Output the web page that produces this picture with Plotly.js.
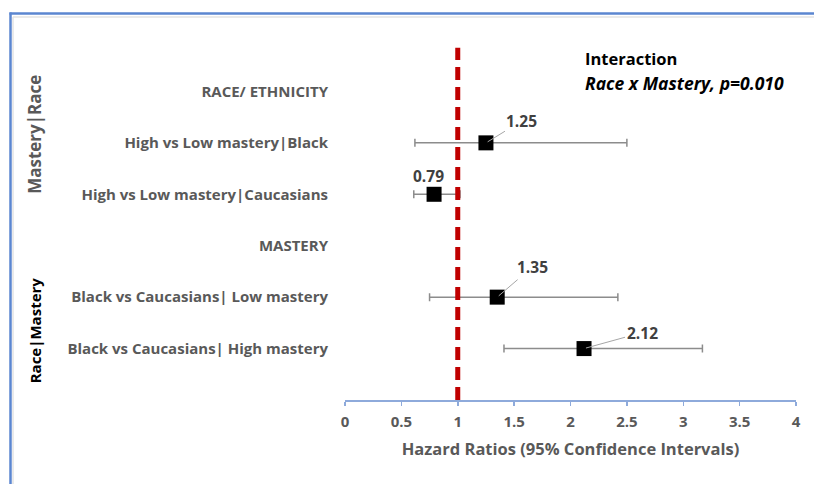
<!DOCTYPE html>
<html>
<head>
<meta charset="utf-8">
<script src="https://cdn.plot.ly/plotly-3.0.1.min.js"></script>
<style>
  html, body { margin: 0; padding: 0; background: #ffffff; }
  #chart { width: 814px; height: 484px; }
</style>
</head>
<body>
<div id="chart"></div>
<script>
// Row labels, top to bottom (section headers have no estimate)
const rowLabels = [
  "RACE/ ETHNICITY",
  "High vs Low mastery|Black",
  "High vs Low mastery|Caucasians",
  "MASTERY",
  "Black vs Caucasians| Low mastery",
  "Black vs Caucasians| High mastery"
];
const rowPos = [6, 5, 4, 3, 2, 1];

// Hazard ratio estimates with 95% confidence limits
const estLabels = [
  "High vs Low mastery|Black",
  "High vs Low mastery|Caucasians",
  "Black vs Caucasians| Low mastery",
  "Black vs Caucasians| High mastery"
];
const hazardRatio = [1.25, 0.79, 1.35, 2.12];
const ciLower = [0.62, 0.61, 0.75, 1.41];
const ciUpper = [2.50, 1.02, 2.42, 3.17];

const xTicks = [0, 0.5, 1, 1.5, 2, 2.5, 3, 3.5, 4];
const referenceHR = 1;

// label offsets (px) for the value callouts: [ax, ay, arrow]
const calloutOffsets = [[36, -22, true], [-6, -18, false], [35, -30, true], [58, -16, true]];

const FONT = "'Open Sans', Lato, sans-serif";
const GREY = "#595959";
const AXIS_BLUE = "#8eaadb";
const FRAME_BLUE = "#5b86d0";

const estY = estLabels.map(l => rowPos[rowLabels.indexOf(l)]);

const trace = {
  type: "scatter",
  mode: "markers",
  x: hazardRatio,
  y: estY,
  marker: { symbol: "square", size: 15, color: "#000000", line: { width: 0 } },
  error_x: {
    type: "data",
    symmetric: false,
    array: hazardRatio.map((v, i) => ciUpper[i] - v),
    arrayminus: hazardRatio.map((v, i) => v - ciLower[i]),
    color: "#8c8c8c",
    thickness: 1.5,
    width: 4
  },
  hoverinfo: "x+y",
  showlegend: false
};

// value callouts
const annotations = hazardRatio.map((v, i) => {
  const [ax, ay, arrow] = calloutOffsets[i];
  const a = {
    x: v, y: estY[i], xref: "x", yref: "y",
    text: "<b>" + v.toFixed(2) + "</b>",
    font: { family: FONT, size: 15.5, color: "#404040" },
    showarrow: arrow
  };
  if (arrow) {
    Object.assign(a, { ax: ax, ay: ay, arrowhead: 0, arrowwidth: 1, arrowcolor: "#a6a6a6", standoff: 2 });
  } else {
    Object.assign(a, { xshift: ax, yshift: -ay });
  }
  return a;
});

// group labels on the left side
annotations.push(
  { xref: "paper", yref: "paper", x: -0.687, y: 0.737, xanchor: "center", yanchor: "middle",
    text: "<b>Mastery|Race</b>", textangle: -90, showarrow: false,
    font: { family: FONT, size: 17, color: GREY } },
  { xref: "paper", yref: "paper", x: -0.687, y: 0.194, xanchor: "center", yanchor: "middle",
    text: "<b>Race|Mastery</b>", textangle: -90, showarrow: false,
    font: { family: FONT, size: 15, color: "#000000" } },
  { xref: "paper", yref: "paper", x: 0.528, y: 0.95, xanchor: "left", yanchor: "middle",
    text: "<b>Interaction</b>",
    showarrow: false, font: { family: FONT, size: 16.5, color: "#000000" } },
  { xref: "paper", yref: "paper", x: 0.528, y: 0.881, xanchor: "left", yanchor: "middle",
    text: "<b><i>Race x Mastery, p=0.010</i></b>",
    showarrow: false, font: { family: FONT, size: 17.5, color: "#000000" } }
);

// page frame (paper units: x px -> (px-345)/451, y px -> (400-py)/360)
const px = v => (v - 345) / 451;
const py = v => (400 - v) / 360;
const shapes = [
  { type: "line", xref: "x", yref: "y", x0: referenceHR, x1: referenceHR, y0: 0, y1: 6.85,
    line: { color: "#c00000", width: 5, dash: "13px,7px" } },
  { type: "line", xref: "paper", yref: "paper", x0: px(13), x1: px(814), y0: py(17), y1: py(17),
    line: { color: "#e3e3e3", width: 1.5 } },
  { type: "line", xref: "paper", yref: "paper", x0: px(13), x1: px(13), y0: py(17), y1: py(484),
    line: { color: "#e3e3e3", width: 1.5 } },
  { type: "line", xref: "paper", yref: "paper", x0: px(9.5), x1: px(814), y0: py(13.5), y1: py(13.5),
    line: { color: FRAME_BLUE, width: 2.5 } },
  { type: "line", xref: "paper", yref: "paper", x0: px(10.5), x1: px(10.5), y0: py(12.5), y1: py(484),
    line: { color: FRAME_BLUE, width: 2.5 } }
];

const layout = {
  width: 814,
  height: 484,
  margin: { l: 345, r: 18, t: 40, b: 84 },
  paper_bgcolor: "#ffffff",
  plot_bgcolor: "#ffffff",
  font: { family: FONT, color: GREY },
  xaxis: {
    range: [0, 4],
    tickvals: xTicks,
    ticktext: xTicks.map(t => "<b>" + t + "</b>"),
    tickfont: { family: FONT, size: 15, color: GREY },
    showgrid: false,
    zeroline: false,
    showline: true,
    linecolor: AXIS_BLUE,
    linewidth: 1.5,
    ticks: "outside",
    ticklen: 4,
    tickcolor: AXIS_BLUE,
    tickwidth: 1.5,
    ticklabelstandoff: 3,
    title: {
      text: "<b>Hazard Ratios (95% Confidence Intervals)</b>",
      font: { family: FONT, size: 16.5, color: GREY },
      standoff: 14
    },
    automargin: false,
    fixedrange: true
  },
  yaxis: {
    range: [0, 7],
    tickvals: rowPos,
    ticktext: rowLabels.map(t => "<b>" + t + "</b>"),
    tickfont: { family: FONT, size: 15, color: GREY },
    showgrid: false,
    zeroline: false,
    showline: false,
    ticks: "",
    ticklabelstandoff: 16,
    automargin: false,
    fixedrange: true
  },
  shapes: shapes,
  annotations: annotations
};

Plotly.newPlot("chart", [trace], layout, { displayModeBar: false, staticPlot: true });
</script>
</body>
</html>
